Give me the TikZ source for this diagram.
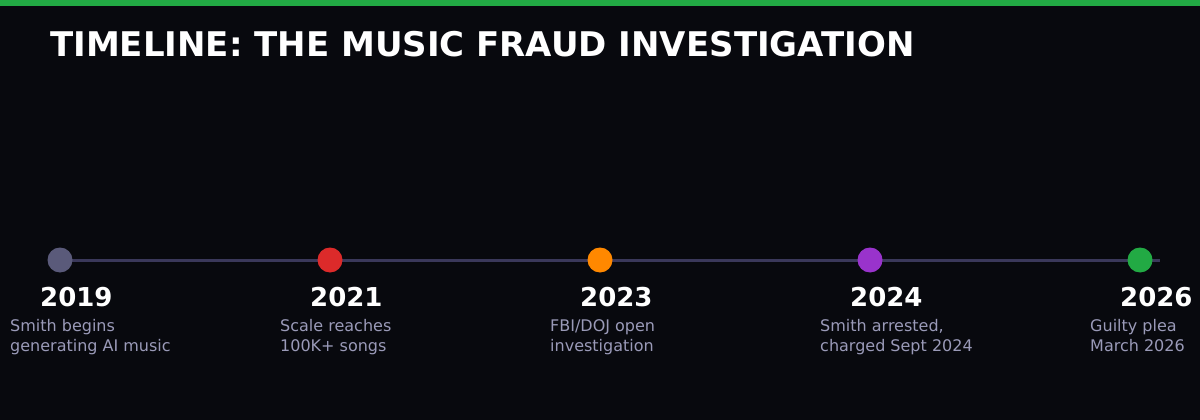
\documentclass[tikz,border=0pt]{standalone}
\usepackage{fontspec}
\setmainfont{DejaVu Sans}
\definecolor{bgdark}{RGB}{8,9,14}
\definecolor{barline}{RGB}{58,56,90}
\definecolor{topbar}{RGB}{34,170,68}
\definecolor{desctext}{RGB}{154,154,184}
\definecolor{dotgray}{RGB}{90,90,122}
\definecolor{dotred}{RGB}{220,42,42}
\definecolor{dotorange}{RGB}{255,136,0}
\definecolor{dotpurple}{RGB}{153,51,204}
\definecolor{dotgreen}{RGB}{34,170,68}

\begin{document}
\begin{tikzpicture}[x=1pt,y=-1pt,
                    dot/.style={circle,inner sep=0pt,minimum size=25pt},
                    year/.style={anchor=base west,inner sep=0pt,text=white,font=\fontsize{26}{30}\selectfont\bfseries},
                    desc/.style={anchor=base west,inner sep=0pt,text=desctext,align=left,font=\fontsize{16}{20}\selectfont}]
  \useasboundingbox (0,0) rectangle (1200,420);
  \fill[bgdark] (0,0) rectangle (1200,420);
  \fill[topbar] (0,0) rectangle (1200,6);
  \node[anchor=base west,inner sep=0pt,text=white,font=\fontsize{34}{40}\selectfont\bfseries] (title) at (50,57) {TIMELINE: THE MUSIC FRAUD INVESTIGATION};

  \coordinate (start) at (60,260);
  \coordinate (end) at (1160,260);
  \draw[barline,line width=3pt] (start) -- (end);

  \node[dot,fill=dotgray] (d2019) at (60,260) {};
  \node[dot,fill=dotred] (d2021) at (330,260) {};
  \node[dot,fill=dotorange] (d2023) at (600,260) {};
  \node[dot,fill=dotpurple] (d2024) at (870,260) {};
  \node[dot,fill=dotgreen] (d2026) at (1140,260) {};

  \node[year] (y2019) at (40,306) {2019};
  \node[year] (y2021) at (310,306) {2021};
  \node[year] (y2023) at (580,306) {2023};
  \node[year] (y2024) at (850,306) {2024};
  \node[year] (y2026) at (1120,306) {2026};

  % last line sits on the base anchor
  \node[desc] (t2019) at (10,351) {Smith begins\\generating AI music};
  \node[desc] (t2021) at (280,351) {Scale reaches\\100K+ songs};
  \node[desc] (t2023) at (550,351) {FBI/DOJ open\\investigation};
  \node[desc] (t2024) at (820,351) {Smith arrested,\\charged Sept 2024};
  \node[desc] (t2026) at (1090,351) {Guilty plea\\March 2026};
\end{tikzpicture}
\end{document}
